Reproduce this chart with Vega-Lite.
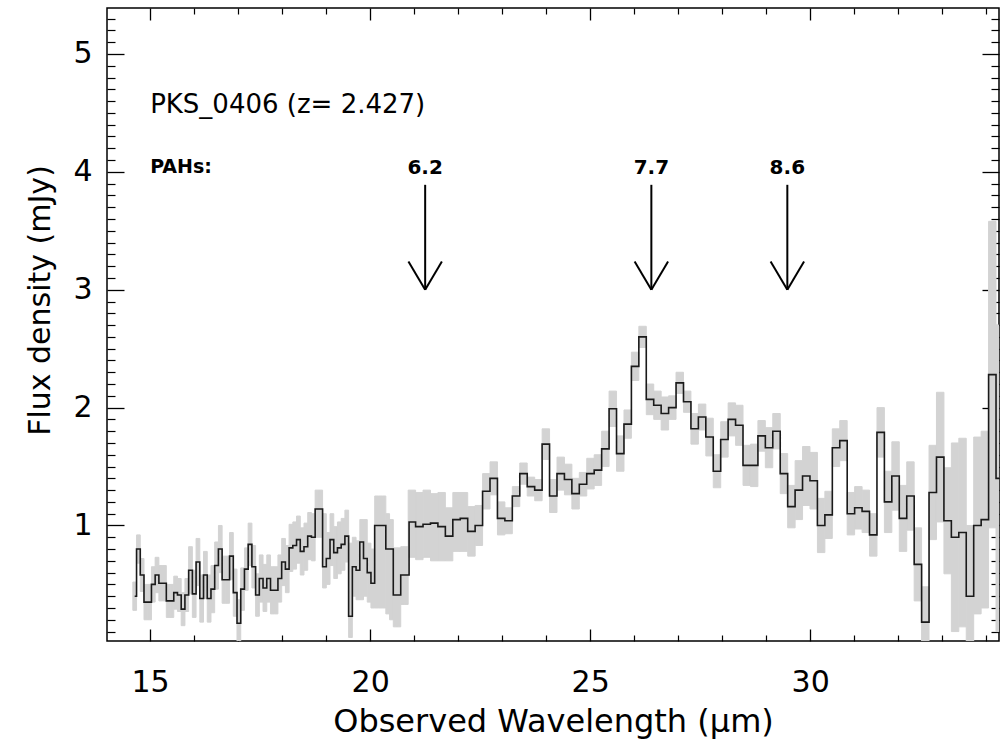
{
  "$schema": "https://vega.github.io/schema/vega-lite/v6.json",
  "width": 892,
  "height": 633,
  "autosize": {"type": "none"},
  "padding": {"left": 107, "top": 8, "right": 1, "bottom": 103},
  "background": "white",
  "config": {"view": {"stroke": "#000", "strokeWidth": 1.5}, "font": "DejaVu Sans"},
  "datasets": {
    "spec": [
      {"w0":14.607,"w1":14.692,"wl":14.649,"flux":0.40,"lo":0.28,"hi":0.52},
      {"w0":14.692,"w1":14.776,"wl":14.734,"flux":0.80,"lo":0.68,"hi":0.92},
      {"w0":14.776,"w1":14.861,"wl":14.818,"flux":0.58,"lo":0.44,"hi":0.72},
      {"w0":14.861,"w1":14.945,"wl":14.903,"flux":0.35,"lo":0.20,"hi":0.50},
      {"w0":14.945,"w1":15.030,"wl":14.988,"flux":0.35,"lo":0.20,"hi":0.50},
      {"w0":15.030,"w1":15.114,"wl":15.072,"flux":0.50,"lo":0.35,"hi":0.65},
      {"w0":15.114,"w1":15.199,"wl":15.157,"flux":0.58,"lo":0.43,"hi":0.73},
      {"w0":15.199,"w1":15.283,"wl":15.241,"flux":0.51,"lo":0.36,"hi":0.66},
      {"w0":15.283,"w1":15.368,"wl":15.326,"flux":0.51,"lo":0.36,"hi":0.66},
      {"w0":15.368,"w1":15.453,"wl":15.410,"flux":0.36,"lo":0.22,"hi":0.50},
      {"w0":15.453,"w1":15.537,"wl":15.495,"flux":0.36,"lo":0.22,"hi":0.50},
      {"w0":15.537,"w1":15.622,"wl":15.579,"flux":0.43,"lo":0.29,"hi":0.57},
      {"w0":15.622,"w1":15.706,"wl":15.664,"flux":0.41,"lo":0.27,"hi":0.55},
      {"w0":15.706,"w1":15.791,"wl":15.748,"flux":0.29,"lo":0.15,"hi":0.43},
      {"w0":15.791,"w1":15.875,"wl":15.833,"flux":0.41,"lo":0.27,"hi":0.55},
      {"w0":15.875,"w1":15.960,"wl":15.918,"flux":0.62,"lo":0.42,"hi":0.82},
      {"w0":15.960,"w1":16.044,"wl":16.002,"flux":0.42,"lo":0.22,"hi":0.62},
      {"w0":16.044,"w1":16.129,"wl":16.087,"flux":0.69,"lo":0.49,"hi":0.89},
      {"w0":16.129,"w1":16.213,"wl":16.171,"flux":0.38,"lo":0.18,"hi":0.58},
      {"w0":16.213,"w1":16.298,"wl":16.256,"flux":0.58,"lo":0.38,"hi":0.78},
      {"w0":16.298,"w1":16.383,"wl":16.340,"flux":0.38,"lo":0.18,"hi":0.58},
      {"w0":16.383,"w1":16.467,"wl":16.425,"flux":0.46,"lo":0.26,"hi":0.66},
      {"w0":16.467,"w1":16.552,"wl":16.509,"flux":0.66,"lo":0.46,"hi":0.86},
      {"w0":16.552,"w1":16.636,"wl":16.594,"flux":0.80,"lo":0.60,"hi":1.00},
      {"w0":16.636,"w1":16.721,"wl":16.678,"flux":0.54,"lo":0.34,"hi":0.74},
      {"w0":16.721,"w1":16.805,"wl":16.763,"flux":0.54,"lo":0.34,"hi":0.74},
      {"w0":16.805,"w1":16.890,"wl":16.848,"flux":0.74,"lo":0.54,"hi":0.94},
      {"w0":16.890,"w1":16.974,"wl":16.932,"flux":0.43,"lo":0.23,"hi":0.63},
      {"w0":16.974,"w1":17.059,"wl":17.017,"flux":0.17,"lo":0.02,"hi":0.37},
      {"w0":17.059,"w1":17.144,"wl":17.101,"flux":0.46,"lo":0.28,"hi":0.64},
      {"w0":17.144,"w1":17.228,"wl":17.186,"flux":0.63,"lo":0.45,"hi":0.81},
      {"w0":17.228,"w1":17.313,"wl":17.270,"flux":0.84,"lo":0.66,"hi":1.02},
      {"w0":17.313,"w1":17.397,"wl":17.355,"flux":0.65,"lo":0.47,"hi":0.83},
      {"w0":17.397,"w1":17.482,"wl":17.439,"flux":0.41,"lo":0.23,"hi":0.59},
      {"w0":17.482,"w1":17.566,"wl":17.524,"flux":0.55,"lo":0.35,"hi":0.75},
      {"w0":17.566,"w1":17.651,"wl":17.608,"flux":0.47,"lo":0.27,"hi":0.67},
      {"w0":17.651,"w1":17.735,"wl":17.693,"flux":0.55,"lo":0.35,"hi":0.75},
      {"w0":17.735,"w1":17.820,"wl":17.778,"flux":0.45,"lo":0.25,"hi":0.65},
      {"w0":17.820,"w1":17.904,"wl":17.862,"flux":0.45,"lo":0.25,"hi":0.65},
      {"w0":17.904,"w1":17.989,"wl":17.947,"flux":0.55,"lo":0.35,"hi":0.75},
      {"w0":17.989,"w1":18.074,"wl":18.031,"flux":0.69,"lo":0.49,"hi":0.89},
      {"w0":18.074,"w1":18.158,"wl":18.116,"flux":0.63,"lo":0.43,"hi":0.83},
      {"w0":18.158,"w1":18.243,"wl":18.200,"flux":0.81,"lo":0.61,"hi":1.01},
      {"w0":18.243,"w1":18.327,"wl":18.285,"flux":0.83,"lo":0.63,"hi":1.03},
      {"w0":18.327,"w1":18.412,"wl":18.369,"flux":0.88,"lo":0.68,"hi":1.08},
      {"w0":18.412,"w1":18.496,"wl":18.454,"flux":0.78,"lo":0.58,"hi":0.98},
      {"w0":18.496,"w1":18.581,"wl":18.538,"flux":0.82,"lo":0.62,"hi":1.02},
      {"w0":18.581,"w1":18.665,"wl":18.623,"flux":0.91,"lo":0.71,"hi":1.11},
      {"w0":18.665,"w1":18.750,"wl":18.708,"flux":0.90,"lo":0.70,"hi":1.10},
      {"w0":18.750,"w1":18.835,"wl":18.792,"flux":1.14,"lo":0.90,"hi":1.30},
      {"w0":18.835,"w1":18.919,"wl":18.877,"flux":1.14,"lo":0.90,"hi":1.30},
      {"w0":18.919,"w1":19.004,"wl":18.961,"flux":0.65,"lo":0.47,"hi":1.10},
      {"w0":19.004,"w1":19.088,"wl":19.046,"flux":0.72,"lo":0.50,"hi":0.94},
      {"w0":19.088,"w1":19.173,"wl":19.130,"flux":0.88,"lo":0.66,"hi":1.10},
      {"w0":19.173,"w1":19.257,"wl":19.215,"flux":0.77,"lo":0.55,"hi":0.99},
      {"w0":19.257,"w1":19.342,"wl":19.299,"flux":0.81,"lo":0.59,"hi":1.03},
      {"w0":19.342,"w1":19.426,"wl":19.384,"flux":0.84,"lo":0.62,"hi":1.06},
      {"w0":19.426,"w1":19.511,"wl":19.468,"flux":0.91,"lo":0.69,"hi":1.13},
      {"w0":19.511,"w1":19.595,"wl":19.553,"flux":0.23,"lo":0.05,"hi":0.85},
      {"w0":19.595,"w1":19.680,"wl":19.638,"flux":0.65,"lo":0.40,"hi":0.90},
      {"w0":19.680,"w1":19.765,"wl":19.722,"flux":0.62,"lo":0.37,"hi":0.87},
      {"w0":19.765,"w1":19.849,"wl":19.807,"flux":0.86,"lo":0.37,"hi":1.05},
      {"w0":19.849,"w1":19.934,"wl":19.891,"flux":0.72,"lo":0.40,"hi":1.05},
      {"w0":19.934,"w1":20.018,"wl":19.976,"flux":0.60,"lo":0.35,"hi":0.85},
      {"w0":20.018,"w1":20.103,"wl":20.060,"flux":0.51,"lo":0.30,"hi":0.80},
      {"w0":20.103,"w1":20.187,"wl":20.145,"flux":1.00,"lo":0.30,"hi":1.25},
      {"w0":20.187,"w1":20.272,"wl":20.229,"flux":1.00,"lo":0.30,"hi":1.25},
      {"w0":20.272,"w1":20.356,"wl":20.314,"flux":1.00,"lo":0.30,"hi":1.25},
      {"w0":20.356,"w1":20.441,"wl":20.398,"flux":0.80,"lo":0.25,"hi":1.10},
      {"w0":20.441,"w1":20.526,"wl":20.483,"flux":0.80,"lo":0.20,"hi":1.05},
      {"w0":20.526,"w1":20.610,"wl":20.568,"flux":0.41,"lo":0.14,"hi":0.81},
      {"w0":20.610,"w1":20.695,"wl":20.652,"flux":0.41,"lo":0.14,"hi":0.81},
      {"w0":20.695,"w1":20.779,"wl":20.737,"flux":0.58,"lo":0.33,"hi":0.82},
      {"w0":20.779,"w1":20.864,"wl":20.821,"flux":0.58,"lo":0.33,"hi":0.82},
      {"w0":20.864,"w1":21.033,"wl":20.948,"flux":1.03,"lo":0.73,"hi":1.30},
      {"w0":21.033,"w1":21.202,"wl":21.117,"flux":0.99,"lo":0.71,"hi":1.28},
      {"w0":21.202,"w1":21.371,"wl":21.286,"flux":1.01,"lo":0.73,"hi":1.30},
      {"w0":21.371,"w1":21.540,"wl":21.455,"flux":1.02,"lo":0.70,"hi":1.27},
      {"w0":21.540,"w1":21.709,"wl":21.624,"flux":0.99,"lo":0.70,"hi":1.28},
      {"w0":21.709,"w1":21.879,"wl":21.794,"flux":0.91,"lo":0.70,"hi":1.15},
      {"w0":21.879,"w1":22.048,"wl":21.963,"flux":1.05,"lo":0.78,"hi":1.28},
      {"w0":22.048,"w1":22.217,"wl":22.132,"flux":1.06,"lo":0.78,"hi":1.28},
      {"w0":22.217,"w1":22.386,"wl":22.301,"flux":0.95,"lo":0.74,"hi":1.16},
      {"w0":22.386,"w1":22.555,"wl":22.470,"flux":1.00,"lo":0.83,"hi":1.17},
      {"w0":22.555,"w1":22.724,"wl":22.639,"flux":1.29,"lo":1.14,"hi":1.44},
      {"w0":22.724,"w1":22.893,"wl":22.808,"flux":1.40,"lo":1.26,"hi":1.54},
      {"w0":22.893,"w1":23.062,"wl":22.977,"flux":1.06,"lo":0.92,"hi":1.20},
      {"w0":23.062,"w1":23.231,"wl":23.146,"flux":1.04,"lo":0.93,"hi":1.15},
      {"w0":23.231,"w1":23.400,"wl":23.315,"flux":1.25,"lo":1.16,"hi":1.33},
      {"w0":23.400,"w1":23.569,"wl":23.485,"flux":1.44,"lo":1.35,"hi":1.53},
      {"w0":23.569,"w1":23.739,"wl":23.654,"flux":1.33,"lo":1.25,"hi":1.41},
      {"w0":23.739,"w1":23.908,"wl":23.823,"flux":1.30,"lo":1.21,"hi":1.39},
      {"w0":23.908,"w1":24.077,"wl":23.992,"flux":1.69,"lo":1.56,"hi":1.82},
      {"w0":24.077,"w1":24.246,"wl":24.161,"flux":1.25,"lo":1.11,"hi":1.39},
      {"w0":24.246,"w1":24.415,"wl":24.330,"flux":1.44,"lo":1.30,"hi":1.58},
      {"w0":24.415,"w1":24.584,"wl":24.499,"flux":1.39,"lo":1.26,"hi":1.52},
      {"w0":24.584,"w1":24.753,"wl":24.668,"flux":1.27,"lo":1.14,"hi":1.40},
      {"w0":24.753,"w1":24.922,"wl":24.837,"flux":1.35,"lo":1.25,"hi":1.45},
      {"w0":24.922,"w1":25.091,"wl":25.006,"flux":1.44,"lo":1.31,"hi":1.57},
      {"w0":25.091,"w1":25.260,"wl":25.176,"flux":1.47,"lo":1.34,"hi":1.60},
      {"w0":25.260,"w1":25.429,"wl":25.345,"flux":1.65,"lo":1.50,"hi":1.80},
      {"w0":25.429,"w1":25.599,"wl":25.514,"flux":1.99,"lo":1.84,"hi":2.14},
      {"w0":25.599,"w1":25.768,"wl":25.683,"flux":1.61,"lo":1.46,"hi":1.76},
      {"w0":25.768,"w1":25.937,"wl":25.852,"flux":1.86,"lo":1.74,"hi":1.98},
      {"w0":25.937,"w1":26.106,"wl":26.021,"flux":2.35,"lo":2.23,"hi":2.47},
      {"w0":26.106,"w1":26.275,"wl":26.190,"flux":2.60,"lo":2.51,"hi":2.69},
      {"w0":26.275,"w1":26.444,"wl":26.359,"flux":2.07,"lo":1.94,"hi":2.20},
      {"w0":26.444,"w1":26.613,"wl":26.528,"flux":2.02,"lo":1.90,"hi":2.14},
      {"w0":26.613,"w1":26.782,"wl":26.697,"flux":1.95,"lo":1.81,"hi":2.09},
      {"w0":26.782,"w1":26.951,"wl":26.867,"flux":2.00,"lo":1.90,"hi":2.10},
      {"w0":26.951,"w1":27.120,"wl":27.036,"flux":2.21,"lo":2.12,"hi":2.30},
      {"w0":27.120,"w1":27.289,"wl":27.205,"flux":2.05,"lo":1.96,"hi":2.14},
      {"w0":27.289,"w1":27.459,"wl":27.374,"flux":1.82,"lo":1.69,"hi":1.95},
      {"w0":27.459,"w1":27.628,"wl":27.543,"flux":1.92,"lo":1.81,"hi":2.03},
      {"w0":27.628,"w1":27.797,"wl":27.712,"flux":1.75,"lo":1.59,"hi":1.91},
      {"w0":27.797,"w1":27.966,"wl":27.881,"flux":1.46,"lo":1.32,"hi":1.60},
      {"w0":27.966,"w1":28.135,"wl":28.050,"flux":1.73,"lo":1.58,"hi":1.88},
      {"w0":28.135,"w1":28.304,"wl":28.219,"flux":1.90,"lo":1.76,"hi":2.04},
      {"w0":28.304,"w1":28.473,"wl":28.388,"flux":1.85,"lo":1.68,"hi":2.02},
      {"w0":28.473,"w1":28.642,"wl":28.557,"flux":1.51,"lo":1.34,"hi":1.68},
      {"w0":28.642,"w1":28.811,"wl":28.727,"flux":1.51,"lo":1.33,"hi":1.69},
      {"w0":28.811,"w1":28.980,"wl":28.896,"flux":1.76,"lo":1.63,"hi":1.89},
      {"w0":28.980,"w1":29.149,"wl":29.065,"flux":1.66,"lo":1.49,"hi":1.83},
      {"w0":29.149,"w1":29.319,"wl":29.234,"flux":1.80,"lo":1.65,"hi":1.95},
      {"w0":29.319,"w1":29.488,"wl":29.403,"flux":1.44,"lo":1.27,"hi":1.61},
      {"w0":29.488,"w1":29.657,"wl":29.572,"flux":1.16,"lo":0.98,"hi":1.34},
      {"w0":29.657,"w1":29.826,"wl":29.741,"flux":1.30,"lo":1.05,"hi":1.55},
      {"w0":29.826,"w1":29.995,"wl":29.910,"flux":1.42,"lo":1.17,"hi":1.67},
      {"w0":29.995,"w1":30.164,"wl":30.079,"flux":1.38,"lo":1.14,"hi":1.62},
      {"w0":30.164,"w1":30.333,"wl":30.248,"flux":1.00,"lo":0.77,"hi":1.23},
      {"w0":30.333,"w1":30.502,"wl":30.418,"flux":1.09,"lo":0.89,"hi":1.29},
      {"w0":30.502,"w1":30.671,"wl":30.587,"flux":1.66,"lo":1.50,"hi":1.82},
      {"w0":30.671,"w1":30.840,"wl":30.756,"flux":1.72,"lo":1.55,"hi":1.89},
      {"w0":30.840,"w1":31.009,"wl":30.925,"flux":1.10,"lo":0.92,"hi":1.28},
      {"w0":31.009,"w1":31.179,"wl":31.094,"flux":1.15,"lo":0.97,"hi":1.33},
      {"w0":31.179,"w1":31.348,"wl":31.263,"flux":1.12,"lo":0.94,"hi":1.30},
      {"w0":31.348,"w1":31.517,"wl":31.432,"flux":0.92,"lo":0.74,"hi":1.10},
      {"w0":31.517,"w1":31.686,"wl":31.601,"flux":1.79,"lo":1.58,"hi":2.00},
      {"w0":31.686,"w1":31.855,"wl":31.770,"flux":1.20,"lo":0.94,"hi":1.46},
      {"w0":31.855,"w1":32.024,"wl":31.939,"flux":1.42,"lo":1.13,"hi":1.71},
      {"w0":32.024,"w1":32.193,"wl":32.109,"flux":1.06,"lo":0.78,"hi":1.34},
      {"w0":32.193,"w1":32.362,"wl":32.278,"flux":1.25,"lo":0.96,"hi":1.54},
      {"w0":32.362,"w1":32.531,"wl":32.447,"flux":0.67,"lo":0.36,"hi":0.98},
      {"w0":32.531,"w1":32.700,"wl":32.616,"flux":0.18,"lo":0.02,"hi":0.48},
      {"w0":32.700,"w1":32.869,"wl":32.785,"flux":1.28,"lo":0.88,"hi":1.68},
      {"w0":32.869,"w1":33.039,"wl":32.954,"flux":1.58,"lo":1.03,"hi":2.13},
      {"w0":33.039,"w1":33.208,"wl":33.123,"flux":1.04,"lo":0.59,"hi":1.49},
      {"w0":33.208,"w1":33.377,"wl":33.292,"flux":0.90,"lo":0.10,"hi":1.70},
      {"w0":33.377,"w1":33.546,"wl":33.461,"flux":0.94,"lo":0.14,"hi":1.74},
      {"w0":33.546,"w1":33.715,"wl":33.630,"flux":0.40,"lo":0.02,"hi":1.00},
      {"w0":33.715,"w1":33.884,"wl":33.800,"flux":1.00,"lo":0.25,"hi":1.75},
      {"w0":33.884,"w1":34.053,"wl":33.969,"flux":1.05,"lo":0.30,"hi":1.80},
      {"w0":34.053,"w1":34.222,"wl":34.138,"flux":2.28,"lo":0.98,"hi":3.58},
      {"w0":34.222,"w1":34.391,"wl":34.307,"flux":1.40,"lo":0.10,"hi":2.70}
    ],
    "arrows": [
      {"a":21.25,"b":21.25,"fa":3.89,"fb":3.0},
      {"a":20.87,"b":21.25,"fa":3.24,"fb":3.0},
      {"a":21.63,"b":21.25,"fa":3.24,"fb":3.0},
      {"a":26.39,"b":26.39,"fa":3.89,"fb":3.0},
      {"a":26.01,"b":26.39,"fa":3.24,"fb":3.0},
      {"a":26.77,"b":26.39,"fa":3.24,"fb":3.0},
      {"a":29.48,"b":29.48,"fa":3.89,"fb":3.0},
      {"a":29.10,"b":29.48,"fa":3.24,"fb":3.0},
      {"a":29.86,"b":29.48,"fa":3.24,"fb":3.0}
    ],
    "pah": [
      {"wl":21.25,"f":3.98,"txt":"6.2"},
      {"wl":26.39,"f":3.98,"txt":"7.7"},
      {"wl":29.48,"f":3.98,"txt":"8.6"}
    ],
    "name": [{"wl":15.0,"f":4.497,"txt":"PKS_0406 (z= 2.427)"}],
    "pahs": [{"wl":15.0,"f":3.99,"txt":"PAHs:"}]
  },
  "resolve": {"axis": {"x": "independent", "y": "independent"}},
  "layer": [
    {
      "data": {"name": "spec"},
      "mark": {"type": "rect", "color": "#d3d3d3", "stroke": "#d3d3d3", "strokeWidth": 1, "clip": true},
      "encoding": {
        "x": {"field": "w0", "type": "quantitative",
              "scale": {"domain": [14.02, 34.29], "nice": false, "zero": false},
              "axis": {"orient": "bottom", "values": [15, 20, 25, 30], "tickSize": -12, "tickColor": "#000", "tickWidth": 1.3,
                       "domain": false, "grid": false, "labelFontSize": 30, "labelFont": "DejaVu Sans", "labelColor": "#000",
                       "labelPadding": 38, "labelFlush": false,
                       "title": "Observed Wavelength (μm)", "titleFont": "DejaVu Sans", "titleFontSize": 32, "titleFontWeight": "normal",
                       "titleColor": "#000", "titleY": 80, "titleBaseline": "middle"}},
        "x2": {"field": "w1"},
        "y": {"field": "lo", "type": "quantitative",
              "scale": {"domain": [0.02, 5.39], "nice": false, "zero": false},
              "axis": {"orient": "left", "values": [1, 2, 3, 4, 5], "tickSize": -17, "tickColor": "#000", "tickWidth": 1.3,
                       "domain": false, "grid": false, "labelFontSize": 30, "labelFont": "DejaVu Sans", "labelColor": "#000",
                       "labelPadding": 32, "labelFlush": false,
                       "title": "Flux density (mJy)", "titleFont": "DejaVu Sans", "titleFontSize": 30, "titleFontWeight": "normal",
                       "titleColor": "#000", "titleX": -67, "titleY": 292, "titleAlign": "center", "titleBaseline": "middle", "titleAngle": -90}},
        "y2": {"field": "hi"}
      }
    },
    {
      "data": {"name": "spec"},
      "mark": {"type": "line", "interpolate": "step", "color": "#1a1a1a", "strokeWidth": 1.6, "clip": true},
      "encoding": {
        "x": {"field": "wl", "type": "quantitative",
              "axis": {"orient": "bottom", "values": [16,17,18,19,21,22,23,24,26,27,28,29,31,32,33,34], "tickSize": -6, "tickColor": "#000", "tickWidth": 1.2,
                       "domain": false, "grid": false, "labels": false, "title": null}},
        "y": {"field": "flux", "type": "quantitative",
              "axis": {"orient": "left", "values": [0.1,0.2,0.3,0.4,0.5,0.6,0.7,0.8,0.9,1.1,1.2,1.3,1.4,1.5,1.6,1.7,1.8,1.9,2.1,2.2,2.3,2.4,2.5,2.6,2.7,2.8,2.9,3.1,3.2,3.3,3.4,3.5,3.6,3.7,3.8,3.9,4.1,4.2,4.3,4.4,4.5,4.6,4.7,4.8,4.9,5.1,5.2,5.3],
                       "tickSize": -8, "tickColor": "#000", "tickWidth": 1.2, "domain": false, "grid": false, "labels": false, "title": null}}
      }
    },
    {
      "data": {"name": "arrows"},
      "mark": {"type": "rule", "color": "#000", "strokeWidth": 2},
      "encoding": {
        "x": {"field": "a", "type": "quantitative",
              "axis": {"orient": "top", "values": [15, 20, 25, 30], "tickSize": -12, "tickColor": "#000", "tickWidth": 1.3,
                       "domain": false, "grid": false, "labels": false, "title": null}},
        "x2": {"field": "b"},
        "y": {"field": "fa", "type": "quantitative",
              "axis": {"orient": "right", "values": [1, 2, 3, 4, 5], "tickSize": -17, "tickColor": "#000", "tickWidth": 1.3,
                       "domain": false, "grid": false, "labels": false, "title": null}},
        "y2": {"field": "fb"}
      }
    },
    {
      "data": {"name": "arrows"},
      "mark": {"type": "rule", "color": "#000", "strokeWidth": 2, "opacity": 0},
      "encoding": {
        "x": {"field": "a", "type": "quantitative",
              "axis": {"orient": "top", "values": [16,17,18,19,21,22,23,24,26,27,28,29,31,32,33,34], "tickSize": -6, "tickColor": "#000", "tickWidth": 1.2,
                       "domain": false, "grid": false, "labels": false, "title": null}},
        "y": {"field": "fa", "type": "quantitative",
              "axis": {"orient": "right", "values": [0.1,0.2,0.3,0.4,0.5,0.6,0.7,0.8,0.9,1.1,1.2,1.3,1.4,1.5,1.6,1.7,1.8,1.9,2.1,2.2,2.3,2.4,2.5,2.6,2.7,2.8,2.9,3.1,3.2,3.3,3.4,3.5,3.6,3.7,3.8,3.9,4.1,4.2,4.3,4.4,4.5,4.6,4.7,4.8,4.9,5.1,5.2,5.3],
                       "tickSize": -8, "tickColor": "#000", "tickWidth": 1.2, "domain": false, "grid": false, "labels": false, "title": null}}
      }
    },
    {
      "data": {"name": "pah"},
      "mark": {"type": "text", "font": "DejaVu Sans", "fontSize": 20, "fontWeight": "bold", "color": "#000", "align": "center", "baseline": "alphabetic"},
      "encoding": {
        "x": {"field": "wl", "type": "quantitative", "axis": null},
        "y": {"field": "f", "type": "quantitative", "axis": null},
        "text": {"field": "txt"}
      }
    },
    {
      "data": {"name": "name"},
      "mark": {"type": "text", "font": "DejaVu Sans", "fontSize": 26, "color": "#000", "align": "left", "baseline": "alphabetic"},
      "encoding": {
        "x": {"field": "wl", "type": "quantitative", "axis": null},
        "y": {"field": "f", "type": "quantitative", "axis": null},
        "text": {"field": "txt"}
      }
    },
    {
      "data": {"name": "pahs"},
      "mark": {"type": "text", "font": "DejaVu Sans", "fontSize": 19, "fontWeight": "bold", "color": "#000", "align": "left", "baseline": "alphabetic"},
      "encoding": {
        "x": {"field": "wl", "type": "quantitative", "axis": null},
        "y": {"field": "f", "type": "quantitative", "axis": null},
        "text": {"field": "txt"}
      }
    }
  ]
}
